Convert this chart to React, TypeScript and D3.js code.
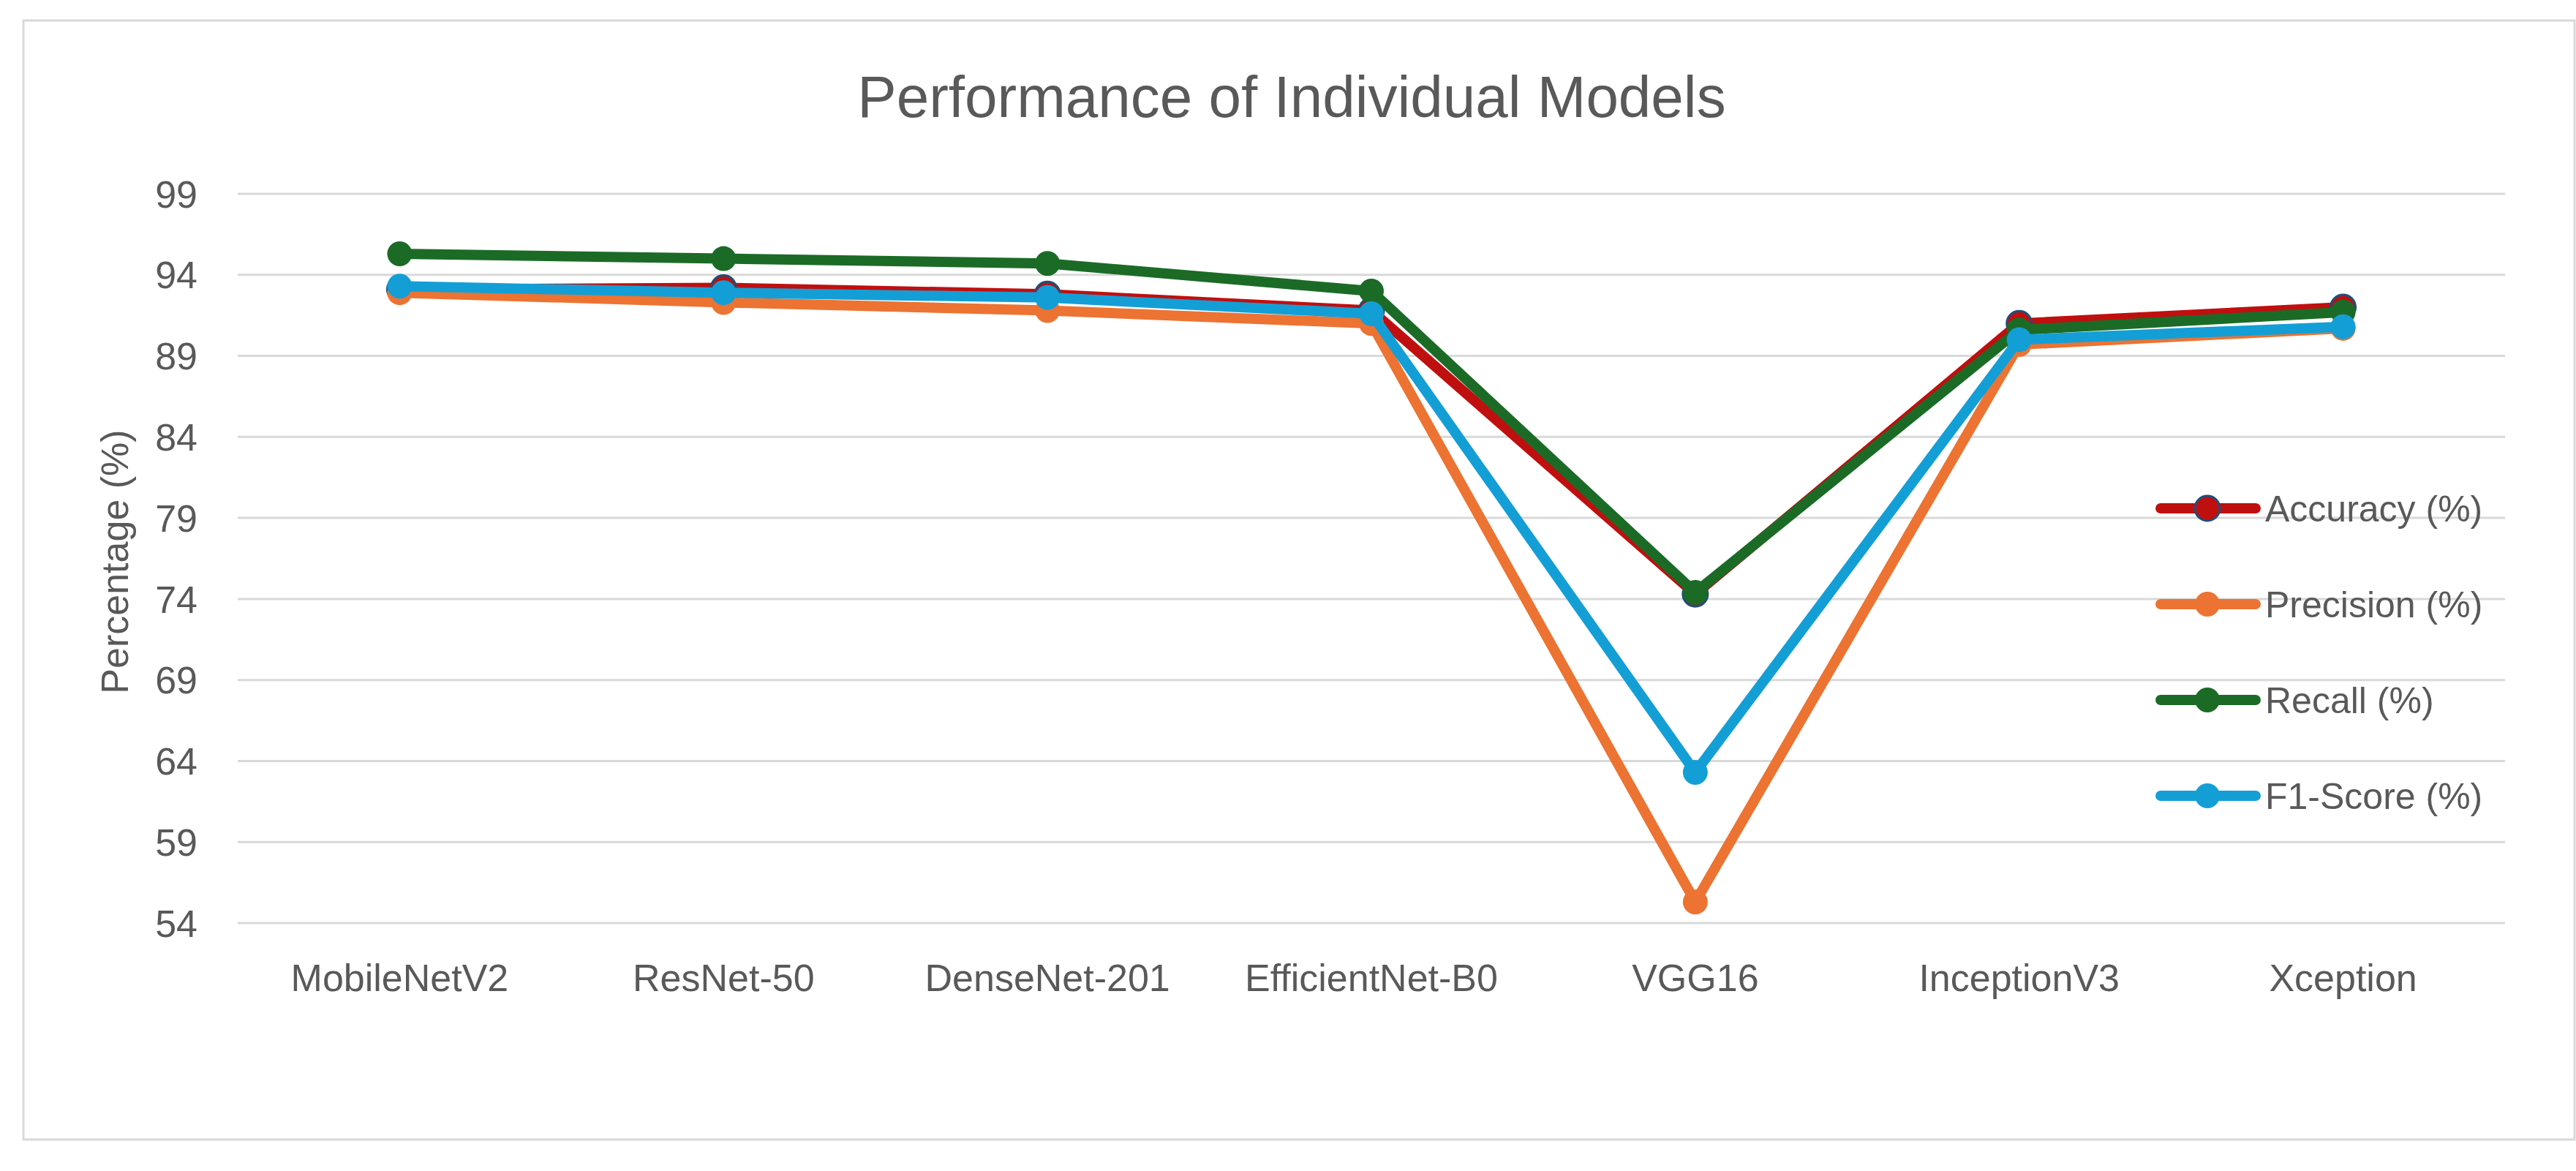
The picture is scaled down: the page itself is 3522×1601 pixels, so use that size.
import React, { useEffect, useRef } from "react";
import * as d3 from "d3";

const models = ["MobileNetV2", "ResNet-50", "DenseNet-201", "EfficientNet-B0", "VGG16", "InceptionV3", "Xception"];
const accuracy = [93.1, 93.2, 92.8, 91.8, 74.3, 91.0, 92.0];
const precision = [92.9, 92.3, 91.8, 91.0, 55.3, 89.7, 90.7];
const recall = [95.3, 95.0, 94.7, 93.0, 74.4, 90.6, 91.7];
const f1 = [93.3, 92.9, 92.6, 91.6, 63.3, 90.0, 90.8];
const yTicks = [54, 59, 64, 69, 74, 79, 84, 89, 94, 99];

const series = [
  { name: "Accuracy (%)", values: accuracy, color: "#C00F0F", outline: "#1F4E79" },
  { name: "Precision (%)", values: precision, color: "#EC7332", outline: null },
  { name: "Recall (%)", values: recall, color: "#1B6B27", outline: null },
  { name: "F1-Score (%)", values: f1, color: "#139FD6", outline: null },
];

const W = 3522;
const H = 1601;
const FONT = "'Liberation Sans', Arial, sans-serif";
const TEXT = "#595959";

export default function App() {
  const ref = useRef<SVGSVGElement>(null);

  useEffect(() => {
    const svg = d3.select(ref.current);
    svg.selectAll("*").remove();

    const x = d3.scaleBand().domain(models).range([325, 3425]).padding(0);
    const y = d3.scaleLinear().domain([54, 99]).range([1262, 265]);
    const cx = (m: string) => (x(m) as number) + x.bandwidth() / 2;

    // chart frame
    svg.append("rect")
      .attr("x", 32).attr("y", 28)
      .attr("width", 3488).attr("height", 1530)
      .attr("fill", "#fff").attr("stroke", "#d9d9d9").attr("stroke-width", 3);

    // title
    svg.append("text")
      .attr("x", 1766).attr("y", 160)
      .attr("text-anchor", "middle")
      .style("font-family", FONT).style("font-size", "80px")
      .attr("fill", TEXT)
      .text("Performance of Individual Models");

    // gridlines + y labels
    const grid = svg.append("g");
    grid.selectAll("line").data(yTicks).join("line")
      .attr("x1", 325).attr("x2", 3425)
      .attr("y1", (d) => y(d)).attr("y2", (d) => y(d))
      .attr("stroke", "#d9d9d9").attr("stroke-width", 3);
    grid.selectAll("text").data(yTicks).join("text")
      .attr("x", 270).attr("y", (d) => y(d)).attr("dy", "0.36em")
      .attr("text-anchor", "end")
      .style("font-family", FONT).style("font-size", "52px")
      .attr("fill", TEXT)
      .text((d) => d);

    // x labels
    svg.append("g").selectAll("text").data(models).join("text")
      .attr("x", (d) => cx(d)).attr("y", 1355)
      .attr("text-anchor", "middle")
      .style("font-family", FONT).style("font-size", "52px")
      .attr("fill", TEXT)
      .text((d) => d);

    // y axis title
    svg.append("text")
      .attr("transform", "translate(175,768) rotate(-90)")
      .attr("text-anchor", "middle")
      .style("font-family", FONT).style("font-size", "52px")
      .attr("fill", TEXT)
      .text("Percentage (%)");

    // lines + markers
    const line = d3.line<number>()
      .x((_, i) => cx(models[i]))
      .y((d) => y(d));

    series.forEach((s) => {
      const g = svg.append("g");
      g.append("path")
        .attr("d", line(s.values))
        .attr("fill", "none")
        .attr("stroke", s.color).attr("stroke-width", 14)
        .attr("stroke-linejoin", "round");
      g.selectAll("circle").data(s.values).join("circle")
        .attr("cx", (_, i) => cx(models[i])).attr("cy", (d) => y(d))
        .attr("r", 17)
        .attr("fill", s.color)
        .attr("stroke", s.outline || "none").attr("stroke-width", 3);
    });

    // legend
    const legend = svg.append("g");
    series.forEach((s, i) => {
      const ly = 695 + i * 131;
      legend.append("line")
        .attr("x1", 2954).attr("x2", 3084).attr("y1", ly).attr("y2", ly)
        .attr("stroke", s.color).attr("stroke-width", 14).attr("stroke-linecap", "round");
      legend.append("circle")
        .attr("cx", 3018).attr("cy", ly).attr("r", 17)
        .attr("fill", s.color)
        .attr("stroke", s.outline || "none").attr("stroke-width", 3);
      legend.append("text")
        .attr("x", 3097).attr("y", ly).attr("dy", "0.36em")
        .style("font-family", FONT).style("font-size", "50px")
        .attr("fill", TEXT)
        .text(s.name);
    });
  }, []);

  return (
    <svg
      ref={ref}
      width={W}
      height={H}
      style={{ position: "absolute", left: 0, top: 0, background: "#fff" }}
    />
  );
}
